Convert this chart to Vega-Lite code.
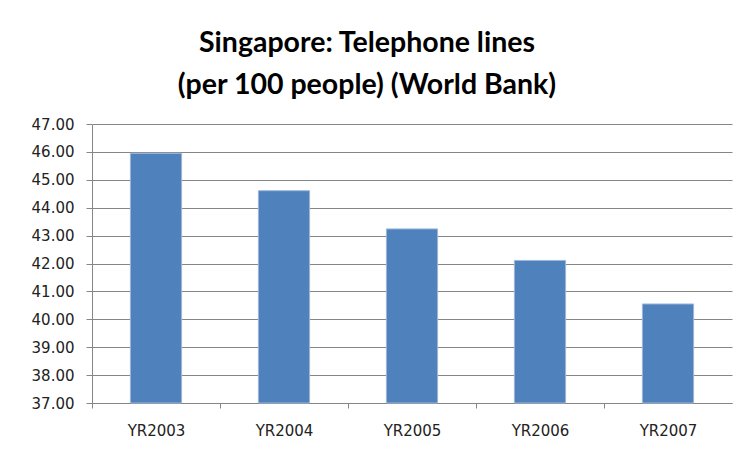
{
  "$schema": "https://vega.github.io/schema/vega-lite/v6.json",
  "width": 640,
  "height": 279,
  "padding": {"left": 31, "top": 28, "right": 9, "bottom": 10},
  "background": "white",
  "title": {
    "text": ["Singapore: Telephone lines", "(per 100 people) (World Bank)"],
    "font": "Lato",
    "fontSize": 28.5,
    "fontWeight": "bold",
    "color": "#000000",
    "lineHeight": 42,
    "anchor": "middle",
    "dx": -45,
    "offset": 18
  },
  "data": {
    "values": [
      {"year": "YR2003", "value": 45.95},
      {"year": "YR2004", "value": 44.61},
      {"year": "YR2005", "value": 43.24},
      {"year": "YR2006", "value": 42.11},
      {"year": "YR2007", "value": 40.55}
    ]
  },
  "mark": {"type": "bar", "color": "#4F81BD", "stroke": "#9DB7DA", "strokeWidth": 1},
  "encoding": {
    "x": {
      "field": "year",
      "type": "nominal",
      "sort": null,
      "scale": {"paddingInner": 0.6, "paddingOuter": 0.3},
      "axis": {
        "title": null,
        "labelAngle": 0,
        "labelFont": "DejaVu Sans",
        "labelFontSize": 15,
        "labelColor": "#222222",
        "labelPadding": 15,
        "tickSize": 5,
        "tickColor": "#868686",
        "domainColor": "#868686",
        "tickOffset": -64,
        "labelOffset": 64,
        "grid": false
      }
    },
    "y": {
      "field": "value",
      "type": "quantitative",
      "scale": {"domain": [37, 47], "nice": false, "zero": false},
      "axis": {
        "title": null,
        "values": [37, 38, 39, 40, 41, 42, 43, 44, 45, 46, 47],
        "format": ".2f",
        "labelFont": "DejaVu Sans",
        "labelFontSize": 15,
        "labelColor": "#222222",
        "labelPadding": 12,
        "tickSize": 6,
        "tickColor": "#868686",
        "domainColor": "#868686",
        "grid": true,
        "gridColor": "#868686",
        "gridOpacity": 1
      }
    },
    "y2": {"datum": 37}
  },
  "config": {"view": {"stroke": null}}
}
